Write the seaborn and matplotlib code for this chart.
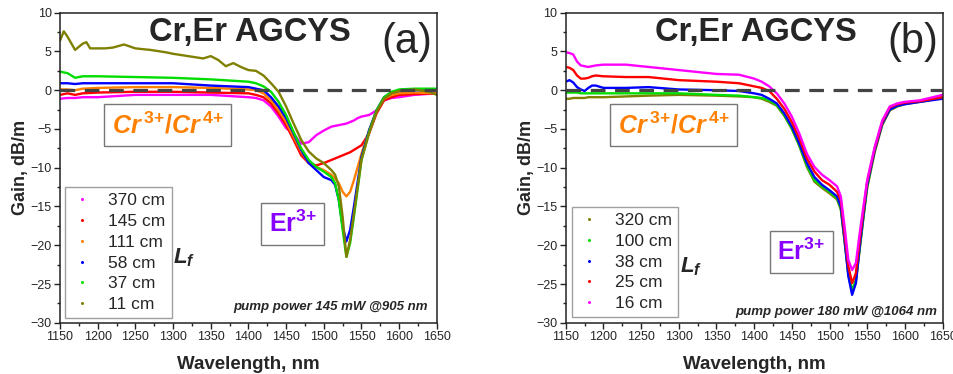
import numpy as np
import pandas as pd
import matplotlib
matplotlib.use("Agg")
import matplotlib.pyplot as plt
from matplotlib.lines import Line2D
from matplotlib.ticker import MultipleLocator
import seaborn as sns

# ---------------- data: panel (a), pump 145 mW @905 nm ----------------
wl_a = [1150, 1160, 1170, 1180, 1200, 1250, 1300, 1350, 1400, 1410, 1420, 1430,
        1440, 1450, 1460, 1470, 1480, 1490, 1500, 1510, 1515, 1520, 1525, 1530,
        1535, 1540, 1545, 1550, 1560, 1570, 1580, 1590, 1600, 1620, 1650]
gain_a_370 = [-1.1, -1.0, -1.0, -0.9, -0.9, -0.6, -0.6, -0.6, -0.9, -1.0, -1.3, -2.1,
              -3.4, -4.9, -5.6, -6.9, -6.7, -5.8, -5.2, -4.7, -4.6, -4.5, -4.4, -4.3,
              -4.1, -3.9, -3.6, -3.4, -3.2, -2.6, -1.3, -1.0, -0.9, -0.6, -0.4]
gain_a_145 = [-0.6, -0.4, -0.6, -0.4, -0.3, -0.2, -0.2, -0.3, -0.4, -0.6, -0.9, -1.7,
              -3.0, -4.5, -6.4, -8.4, -9.4, -9.7, -9.4, -9.0, -8.8, -8.6, -8.4, -8.2,
              -8.0, -7.7, -7.4, -7.1, -5.6, -3.0, -1.3, -0.9, -0.6, -0.5, -0.4]
gain_a_111 = [0.1, 0.1, 0.0, 0.2, 0.3, 0.4, 0.4, 0.3, 0.1, 0.0, -0.4, -1.3,
              -2.6, -4.1, -6.0, -7.9, -9.4, -9.9, -10.3, -10.9, -11.4, -12.0, -13.1, -13.7,
              -13.1, -11.6, -9.9, -8.2, -5.2, -2.6, -1.1, -0.6, -0.4, -0.3, -0.4]
gain_a_58 = [0.9, 0.9, 0.8, 0.9, 0.9, 0.9, 0.9, 0.6, 0.4, 0.2, 0.0, -0.9,
             -2.1, -3.6, -5.6, -7.7, -9.4, -10.3, -11.2, -11.6, -12.2, -14.2, -17.6, -19.5,
             -18.0, -15.0, -11.8, -8.6, -5.2, -2.6, -0.9, -0.3, -0.1, 0.0, 0.0]
gain_a_37 = [2.4, 2.2, 1.6, 1.8, 1.8, 1.7, 1.6, 1.4, 1.1, 0.9, 0.5, -0.2,
             -1.5, -3.2, -5.4, -7.5, -9.0, -9.9, -10.5, -11.2, -12.0, -14.2, -18.0, -21.5,
             -19.7, -16.3, -12.7, -9.0, -5.4, -2.6, -0.9, -0.2, 0.1, 0.2, 0.2]
wl_a_11 = [1150, 1155, 1160, 1170, 1180, 1185, 1190, 1200, 1210, 1220, 1235, 1250,
           1270, 1290, 1300, 1320, 1340, 1350, 1360, 1370, 1380, 1390, 1400, 1410,
           1420, 1430, 1440, 1450, 1460, 1470, 1480, 1490, 1500, 1510, 1515, 1520,
           1525, 1530, 1535, 1540, 1545, 1550, 1560, 1570, 1580, 1590, 1600, 1620,
           1640, 1650]
gain_a_11 = [6.4, 7.6, 6.9, 5.2, 6.0, 6.2, 5.4, 5.4, 5.4, 5.5, 5.9, 5.4,
             5.2, 4.9, 4.7, 4.4, 4.1, 4.4, 3.9, 3.1, 3.5, 3.0, 2.6, 2.5,
             1.9, 0.9, -0.2, -2.1, -4.3, -6.4, -7.9, -8.8, -9.4, -10.3, -10.9, -12.4,
             -16.3, -21.5, -19.3, -15.9, -12.4, -9.0, -5.6, -2.8, -1.1, -0.4, -0.1, 0.1,
             -0.2, -0.6]
labels_a = ["370 cm", "145 cm", "111 cm", "58 cm", "37 cm", "11 cm"]

# ---------------- data: panel (b), pump 180 mW @1064 nm ----------------
wl_b = [1150, 1155, 1160, 1165, 1170, 1175, 1180, 1185, 1190, 1200, 1230, 1260,
        1300, 1350, 1380, 1400, 1410, 1420, 1430, 1440, 1450, 1460, 1470, 1480,
        1490, 1500, 1510, 1515, 1520, 1525, 1530, 1535, 1540, 1545, 1550, 1560,
        1570, 1580, 1590, 1600, 1620, 1650]
gain_b_320 = [-1.1, -1.1, -1.0, -1.0, -1.0, -1.0, -0.9, -0.9, -0.9, -0.9, -0.8, -0.7,
              -0.6, -0.7, -0.8, -0.9, -1.1, -1.5, -2.0, -3.3, -5.0, -7.2, -9.9, -11.8,
              -12.6, -13.3, -14.1, -15.4, -19.5, -23.8, -26.0, -24.7, -20.6, -16.5, -12.6, -8.0,
              -4.5, -2.6, -2.1, -1.8, -1.5, -1.0]
gain_b_100 = [-0.3, -0.3, -0.3, -0.3, -0.4, -0.4, -0.4, -0.4, -0.4, -0.4, -0.4, -0.4,
              -0.4, -0.6, -0.7, -0.9, -1.0, -1.3, -1.9, -3.2, -4.9, -7.1, -9.7, -11.6,
              -12.4, -13.1, -13.9, -15.2, -19.3, -23.6, -25.8, -24.5, -20.4, -16.3, -12.4, -7.7,
              -4.3, -2.5, -2.0, -1.7, -1.4, -0.9]
gain_b_38 = [1.1, 1.3, 1.0, 0.4, 0.1, -0.1, 0.3, 0.6, 0.6, 0.3, 0.3, 0.4,
             0.1, 0.0, -0.1, -0.4, -0.6, -1.1, -1.7, -3.0, -4.7, -6.9, -9.4, -11.2,
             -12.2, -12.9, -13.7, -15.0, -19.3, -24.0, -26.4, -24.9, -20.2, -16.1, -12.2, -7.7,
             -4.3, -2.5, -2.0, -1.8, -1.5, -1.1]
gain_b_25 = [3.0, 2.9, 2.6, 1.9, 1.5, 1.5, 1.6, 1.8, 1.9, 1.8, 1.7, 1.7,
             1.3, 1.1, 0.9, 0.5, 0.3, -0.1, -1.1, -2.4, -4.1, -6.2, -8.8, -10.5,
             -11.6, -12.2, -13.1, -14.2, -18.5, -22.7, -24.9, -23.6, -19.3, -15.5, -11.8, -7.5,
             -4.1, -2.2, -1.8, -1.6, -1.4, -0.9]
gain_b_16 = [4.9, 4.8, 4.6, 3.7, 3.2, 3.1, 3.0, 3.1, 3.2, 3.3, 3.3, 3.0,
             2.6, 2.1, 2.0, 1.5, 1.1, 0.5, -0.4, -1.7, -3.4, -5.6, -8.2, -9.9,
             -10.9, -11.6, -12.4, -13.7, -17.6, -21.9, -23.2, -22.3, -18.5, -15.0, -11.6, -7.3,
             -3.9, -2.1, -1.7, -1.5, -1.3, -0.6]
labels_b = ["320 cm", "100 cm", "38 cm", "25 cm", "16 cm"]

colors_a = ["#ff00ff", "#ff0000", "#ff8000", "#0000ff", "#00dd00", "#808000"]
colors_b = ["#808000", "#00dd00", "#0000ff", "#ff0000", "#ff00ff"]

# long-form tables for seaborn
df_a = pd.concat([
    pd.DataFrame({"wl": wl_a, "gain": gain_a_370, "len": "370 cm"}),
    pd.DataFrame({"wl": wl_a, "gain": gain_a_145, "len": "145 cm"}),
    pd.DataFrame({"wl": wl_a, "gain": gain_a_111, "len": "111 cm"}),
    pd.DataFrame({"wl": wl_a, "gain": gain_a_58, "len": "58 cm"}),
    pd.DataFrame({"wl": wl_a, "gain": gain_a_37, "len": "37 cm"}),
    pd.DataFrame({"wl": wl_a_11, "gain": gain_a_11, "len": "11 cm"}),
], ignore_index=True)
df_b = pd.concat([
    pd.DataFrame({"wl": wl_b, "gain": gain_b_320, "len": "320 cm"}),
    pd.DataFrame({"wl": wl_b, "gain": gain_b_100, "len": "100 cm"}),
    pd.DataFrame({"wl": wl_b, "gain": gain_b_38, "len": "38 cm"}),
    pd.DataFrame({"wl": wl_b, "gain": gain_b_25, "len": "25 cm"}),
    pd.DataFrame({"wl": wl_b, "gain": gain_b_16, "len": "16 cm"}),
], ignore_index=True)

sns.set_style("ticks")
plt.rcParams["font.family"] = ["Liberation Sans", "DejaVu Sans"]
# math text (ion labels, L_f) in bold / bold-italic Liberation Sans
plt.rcParams["mathtext.fontset"] = "custom"
plt.rcParams["mathtext.rm"] = "Liberation Sans:bold"
plt.rcParams["mathtext.bf"] = "Liberation Sans:bold"
plt.rcParams["mathtext.it"] = "Liberation Sans:italic:bold"

fig = plt.figure(figsize=(9.54, 3.74), dpi=100)
ax_a = fig.add_axes([0.0629, 0.137, 0.395, 0.829])
ax_b = fig.add_axes([0.593, 0.137, 0.395, 0.829])


def style_axes(ax):
    ax.set_xlim(1150, 1650)
    ax.set_ylim(-30, 10)
    ax.xaxis.set_major_locator(MultipleLocator(50))
    ax.xaxis.set_minor_locator(MultipleLocator(25))
    ax.yaxis.set_major_locator(MultipleLocator(5))
    ax.yaxis.set_minor_locator(MultipleLocator(2.5))
    ax.tick_params(which="major", direction="out", length=4, width=1,
                   labelsize=9, pad=2, color="#222222")
    ax.tick_params(which="minor", direction="out", length=2.5, width=1,
                   color="#222222")
    for s in ax.spines.values():
        s.set_visible(True)
        s.set_linewidth(1.1)
        s.set_color("#222222")
    ax.set_xlabel("Wavelength, nm", fontsize=13.5, fontweight="bold", labelpad=9)
    ax.set_ylabel("Gain, dB/m", fontsize=13, fontweight="bold", labelpad=1)
    ax.axhline(0, color="#444444", lw=2.3, dashes=(4.6, 3.0), zorder=10)


def annotate(ax, tag, pump, cr_xy, er_xy, lf_xy, pump_xy):
    ax.text(0.505, 0.935, "Cr,Er AGCYS", transform=ax.transAxes, ha="center",
            va="center", fontsize=23.5, fontweight="bold")
    ax.text(0.92, 0.905, tag, transform=ax.transAxes, ha="center", va="center",
            fontsize=30)
    box = dict(boxstyle="square,pad=0.3", fc="white", ec="#777777", lw=1.0)
    ax.text(*cr_xy, r"$\mathit{Cr}^{\,\mathit{3{+}}}\mathit{/Cr}^{\,\mathit{4{+}}}$",
            transform=ax.transAxes, ha="center", va="center", fontsize=18,
            color="#ff8000", bbox=box, zorder=12)
    ax.text(*er_xy, r"$\mathbf{Er}^{\mathbf{3{+}}}$", transform=ax.transAxes,
            ha="center", va="center", fontsize=18, color="#8800ff",
            bbox=box, zorder=12)
    ax.text(*lf_xy, r"$\mathit{L}_{\mathit{f}}$", transform=ax.transAxes,
            ha="center", va="center", fontsize=16)
    ax.text(*pump_xy, pump, transform=ax.transAxes, ha="right", va="center",
            fontsize=9.5, fontweight="bold", fontstyle="italic")


def add_legend(ax, labels, colors, anchor):
    handles = [Line2D([], [], ls="none", marker="o", ms=2.2, color=c,
                      markeredgewidth=0) for c in colors]
    leg = ax.legend(handles, labels, loc="lower left", bbox_to_anchor=anchor,
                    borderaxespad=0, fontsize=12.5, frameon=True, fancybox=False,
                    handlelength=1.3, handletextpad=0.85, labelspacing=0.32,
                    borderpad=0.35)
    leg.get_frame().set_edgecolor("#888888")
    leg.get_frame().set_linewidth(1.0)
    leg.set_zorder(12)


# panel (a)
order_a = ["370 cm", "145 cm", "111 cm", "58 cm", "37 cm", "11 cm"]
sns.lineplot(data=df_a, x="wl", y="gain", hue="len", hue_order=order_a,
             palette=dict(zip(labels_a, colors_a)), sort=False, estimator=None,
             lw=1.7, legend=False, ax=ax_a)
style_axes(ax_a)
annotate(ax_a, "(a)", "pump power 145 mW @905 nm",
         (0.286, 0.638), (0.618, 0.318), (0.33, 0.21), (0.976, 0.05))
add_legend(ax_a, labels_a, colors_a, (0.013, 0.015))

# panel (b)
order_b = ["320 cm", "100 cm", "38 cm", "25 cm", "16 cm"]
sns.lineplot(data=df_b, x="wl", y="gain", hue="len", hue_order=order_b,
             palette=dict(zip(labels_b, colors_b)), sort=False, estimator=None,
             lw=1.7, legend=False, ax=ax_b)
style_axes(ax_b)
annotate(ax_b, "(b)", "pump power 180 mW @1064 nm",
         (0.286, 0.638), (0.625, 0.228), (0.332, 0.18), (0.987, 0.034))
add_legend(ax_b, labels_b, colors_b, (0.016, 0.018))

fig.savefig("out.png", dpi=100, facecolor="white")
